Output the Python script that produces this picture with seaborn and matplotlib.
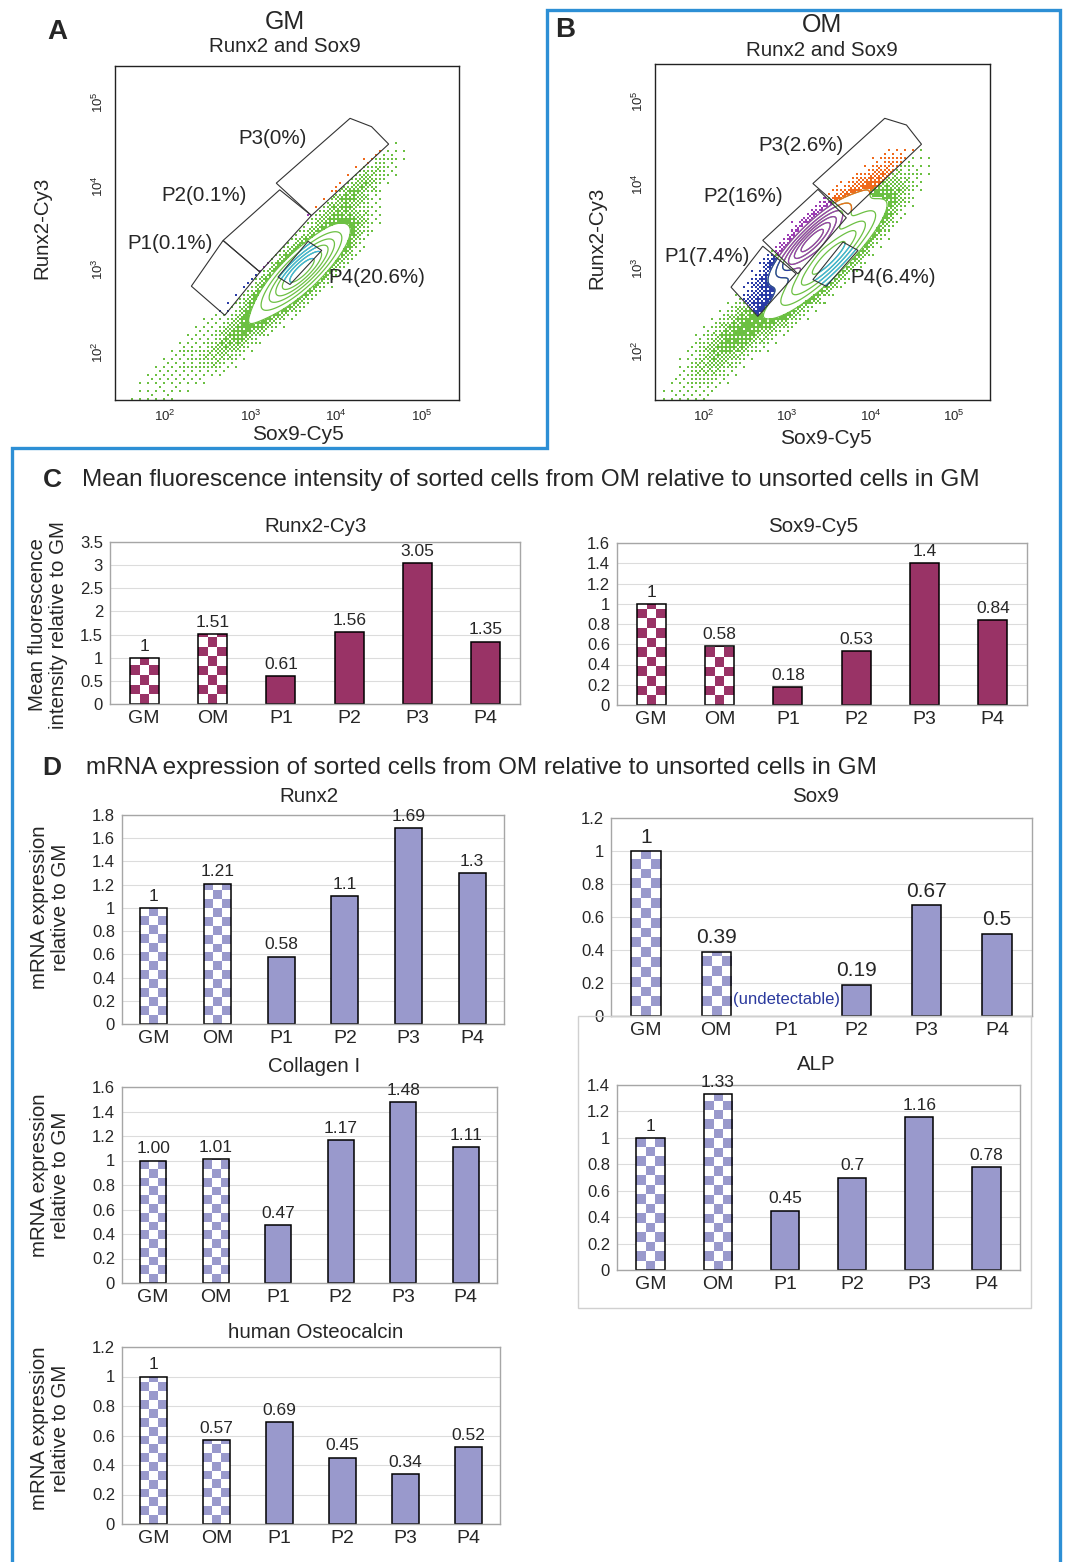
import numpy as np
import pandas as pd
import matplotlib
matplotlib.use("Agg")
import matplotlib.pyplot as plt
from matplotlib.colors import ListedColormap, to_rgba
from matplotlib.patches import Polygon, Rectangle
from matplotlib.path import Path
from matplotlib.lines import Line2D
import seaborn as sns

W, H = 1065, 1562

groups = ["GM", "OM", "P1", "P2", "P3", "P4"]

# C: mean fluorescence intensity relative to GM
mfi_runx2 = [1, 1.51, 0.61, 1.56, 3.05, 1.35]
mfi_sox9 = [1, 0.58, 0.18, 0.53, 1.4, 0.84]

# D: mRNA expression relative to GM
mrna_runx2 = [1, 1.21, 0.58, 1.1, 1.69, 1.3]
mrna_sox9 = [1, 0.39, np.nan, 0.19, 0.67, 0.5]   # P1 undetectable
mrna_col1 = [1.00, 1.01, 0.47, 1.17, 1.48, 1.11]
col1_labels = ["1.00", "1.01", "0.47", "1.17", "1.48", "1.11"]
mrna_alp = [1, 1.33, 0.45, 0.7, 1.16, 0.78]
mrna_ocn = [1, 0.57, 0.69, 0.45, 0.34, 0.52]

# A/B: sort gates in log10 units (Sox9-Cy5, Runx2-Cy3)
gates_gm = {
    "P1": [(2.31, 2.79), (2.70, 2.44), (3.11, 2.96), (2.68, 3.34)],
    "P2": [(2.68, 3.34), (3.11, 2.96), (3.71, 3.64), (3.34, 3.95)],
    "P3": [(3.30, 4.03), (3.71, 3.64), (4.61, 4.50), (4.41, 4.71), (4.16, 4.81)],
    "P4": [(3.67, 3.33), (3.83, 3.22), (3.46, 2.81), (3.32, 2.90)],
}
pct_gm = {"P1": "0.1%", "P2": "0.1%", "P3": "0%", "P4": "20.6%"}
labpos_gm = {"P1": (2.06, 3.30), "P2": (2.46, 3.88), "P3": (3.26, 4.57), "P4": (4.47, 2.90)}

gates_om = {
    "P1": [(2.33, 2.77), (2.65, 2.42), (3.11, 2.93), (2.71, 3.26)],
    "P2": [(2.71, 3.33), (3.13, 2.93), (3.71, 3.60), (3.37, 3.94)],
    "P3": [(3.31, 4.01), (3.73, 3.64), (4.61, 4.48), (4.43, 4.71), (4.17, 4.79)],
    "P4": [(3.67, 3.31), (3.85, 3.21), (3.47, 2.78), (3.31, 2.86)],
}
pct_om = {"P1": "7.4%", "P2": "16%", "P3": "2.6%", "P4": "6.4%"}
labpos_om = {"P1": (2.04, 3.14), "P2": (2.48, 3.85), "P3": (3.17, 4.46), "P4": (4.27, 2.89)}

# cell populations:
# centre x, centre y, spread along / across the diagonal, weight
cloud_gm = [(3.60, 2.98, 0.34, 0.10, 1.0),
            (4.15, 3.85, 0.30, 0.08, 0.045),
            (2.90, 2.25, 0.30, 0.09, 0.05),
            (2.30, 1.95, 0.50, 0.12, 0.004)]
cloud_om = [(3.50, 3.12, 0.45, 0.10, 0.8),
            (3.30, 3.33, 0.32, 0.08, 1.0),
            (2.45, 2.25, 0.35, 0.12, 0.06),
            (3.95, 3.90, 0.25, 0.08, 0.06),
            (2.20, 1.90, 0.55, 0.12, 0.004)]

LEVELS = [0.08, 0.18, 0.32, 0.48, 0.66, 0.85]
GREEN = "#6cc043"
GATE_COLORS = {"P1": "#2b3ca6", "P2": "#9b3cb3", "P3": "#f06a1c", "P4": "#3cb2e4"}
MAROON = "#993366"
LAVENDER = "#9999cc"
XLIM = (1.42, 5.43)
YLIM = (1.42, 5.44)

sns.set_style("white")
plt.rcParams["font.family"] = ["Liberation Sans", "DejaVu Sans"]
plt.rcParams["mathtext.fontset"] = "custom"
plt.rcParams["mathtext.rm"] = "Liberation Sans"

fig = plt.figure(figsize=(W / 100, H / 100), dpi=100)


def axpx(l, t, r, b):
    return fig.add_axes([l / W, 1 - b / H, (r - l) / W, (b - t) / H])


def ftext(x, y, s, **kw):
    fig.text(x / W, 1 - y / H, s, **kw)


def bayer(n=8):
    m = np.array([[0, 2], [3, 1]])
    while m.shape[0] < n:
        m = np.block([[4 * m, 4 * m + 2], [4 * m + 3, 4 * m + 1]])
    return (m + 0.5) / m.size


def cloud_density(X, Y, comps):
    d = np.zeros_like(X)
    for cx, cy, su, sv, w in comps:
        u = ((X - cx) + (Y - cy)) / np.sqrt(2)
        v = ((Y - cy) - (X - cx)) / np.sqrt(2)
        d += w * np.exp(-0.5 * ((u / su) ** 2 + (v / sv) ** 2))
    return d / d.max()


def flow_panel(rect, comps, gates, pct, labpos):
    l, t, r, b = rect
    ax = axpx(l, t, r, b)
    # dot layer: 2 px cells, ordered dithering of the population density
    nx, ny = (r - l) // 2, (b - t) // 2
    xs = XLIM[0] + (np.arange(nx) + 0.5) * (XLIM[1] - XLIM[0]) / nx
    ys = YLIM[0] + (np.arange(ny) + 0.5) * (YLIM[1] - YLIM[0]) / ny
    X, Y = np.meshgrid(xs, ys)
    D = cloud_density(X, Y, comps)
    c1 = LEVELS[0]
    p = np.where(D < c1, (D / c1) ** 0.6, 0)
    p[D < c1 * 0.005] = 0
    thr = np.tile(bayer(8), (ny // 8 + 1, nx // 8 + 1))[:ny, :nx]
    dots = p > thr
    rgba = np.ones((ny, nx, 4))
    rgba[dots] = to_rgba(GREEN)
    pts = np.column_stack([X.ravel(), Y.ravel()])
    for name, verts in gates.items():
        inside = Path(verts).contains_points(pts).reshape(ny, nx)
        rgba[dots & inside] = to_rgba(GATE_COLORS[name])
    ax.imshow(rgba, extent=(*XLIM, *YLIM), origin="lower",
              interpolation="nearest", aspect="auto", zorder=1)
    # contour layer on a finer grid
    fx = np.linspace(*XLIM, 400)
    fy = np.linspace(*YLIM, 400)
    FX, FY = np.meshgrid(fx, fy)
    FD = cloud_density(FX, FY, comps)
    ax.contour(FX, FY, FD, levels=LEVELS, colors=GREEN, linewidths=0.9, zorder=2)
    for name, verts in gates.items():
        cs = ax.contour(FX, FY, FD, levels=LEVELS, colors=GATE_COLORS[name],
                        linewidths=0.9, zorder=2.5)
        cs.set_clip_path(Polygon(verts, closed=True, transform=ax.transData))
        ax.add_patch(Polygon(verts, closed=True, fill=False, edgecolor="#333333",
                             lw=0.8, zorder=3))
        ax.text(*labpos[name], f"{name}({pct[name]})", fontsize=14.8,
                ha="center", va="center", zorder=4)
    ax.set_xlim(XLIM)
    ax.set_ylim(YLIM)
    major = [2, 3, 4, 5]
    minor = [np.log10(k * 10 ** n) for n in range(1, 6) for k in range(2, 10)]
    labels = [f"$10^{{{n}}}$" for n in major]
    ax.set_xticks(major)
    ax.set_xticklabels(labels, fontsize=9.5)
    ax.set_yticks(major)
    ax.set_yticklabels(labels, fontsize=9.5, rotation=90, va="center")
    ax.set_xticks([m for m in minor if XLIM[0] < m < XLIM[1]], minor=True)
    ax.set_yticks([m for m in minor if YLIM[0] < m < YLIM[1]], minor=True)
    ax.tick_params(which="major", direction="out", length=5, width=0.8,
                   color="#333333", pad=1.5)
    ax.tick_params(which="minor", direction="out", length=3, width=0.7, color="#333333")
    for s in ax.spines.values():
        s.set_color("#222222")
        s.set_linewidth(1)
    return ax


def checker(ax, patch, color):
    x0, w, h = patch.get_x(), patch.get_width(), patch.get_height()
    bb = ax.get_window_extent()
    xl, yl = ax.get_xlim(), ax.get_ylim()
    pxx = bb.width / (xl[1] - xl[0])
    pxy = bb.height / (yl[1] - yl[0])
    sq_y = (w * pxx / 3) / pxy
    nrows = int(np.ceil(h / sq_y))
    arr = np.add.outer(np.arange(nrows), np.arange(3)) % 2
    im = ax.imshow(arr, extent=(x0, x0 + w, 0, nrows * sq_y), origin="lower",
                   cmap=ListedColormap(["white", color]), vmin=0, vmax=1,
                   interpolation="nearest", aspect="auto",
                   zorder=patch.get_zorder() + 0.1)
    clip = Rectangle((x0, 0), w, h, transform=ax.transData)
    im.set_clip_path(clip)
    patch.set_facecolor("none")
    patch.set_zorder(patch.get_zorder() + 0.5)


def bar_panel(rect, values, color, ymax, step, labels=None, vfs=12.5, tfs=12):
    ax = axpx(*rect)
    df = pd.DataFrame({"group": groups, "value": values})
    sns.barplot(data=df, x="group", y="value", order=groups, color=color,
                saturation=1, width=0.42, edgecolor="black", linewidth=1.1,
                errorbar=None, ax=ax)
    ax.set_xlim(-0.5, 5.5)
    ax.set_ylim(0, ymax)
    ticks = np.round(np.arange(0, ymax + step / 2, step), 2)
    ax.set_yticks(ticks)
    ax.set_yticklabels([f"{v:g}" for v in ticks], fontsize=tfs)
    ax.set_xticks(range(6))
    ax.set_xticklabels(groups, fontsize=14)
    ax.set_xticks(np.arange(-0.5, 6, 1), minor=True)
    ax.tick_params(axis="x", which="major", length=0, pad=4)
    ax.tick_params(axis="x", which="minor", length=4, color="#a0a0a0", width=0.8)
    ax.tick_params(axis="y", length=3, color="#a0a0a0", pad=2)
    ax.set_xlabel("")
    ax.set_ylabel("")
    ax.yaxis.grid(True, color="#dcdcdc", lw=0.8)
    ax.set_axisbelow(True)
    for s in ax.spines.values():
        s.set_visible(True)
        s.set_color("#a6a6a6")
        s.set_linewidth(1)
    for patch in ax.patches[:2]:
        checker(ax, patch, color)
    ax.set_xlim(-0.5, 5.5)
    ax.set_ylim(0, ymax)
    if labels is None:
        labels = [f"{v:g}" for v in values]
    for i, (v, lab) in enumerate(zip(values, labels)):
        if np.isnan(v):
            continue
        ax.annotate(lab, (i, v), xytext=(0, 3), textcoords="offset points",
                    ha="center", va="bottom", fontsize=vfs)
    return ax


# ---- A and B: flow cytometry ----
ftext(57, 32, "A", fontsize=20, fontweight="bold", ha="center", va="center")
ftext(285, 22, "GM", fontsize=18, ha="center", va="center")
ftext(285, 47, "Runx2 and Sox9", fontsize=14.8, ha="center", va="center")
flow_panel((115, 66, 459, 400), cloud_gm, gates_gm, pct_gm, labpos_gm)
ftext(42, 228, "Runx2-Cy3", fontsize=14.8, rotation=90, ha="center", va="center")
ftext(298, 435, "Sox9-Cy5", fontsize=15, ha="center", va="center")

ftext(565, 30, "B", fontsize=20, fontweight="bold", ha="center", va="center")
ftext(822, 25, "OM", fontsize=18, ha="center", va="center")
ftext(822, 51, "Runx2 and Sox9", fontsize=14.8, ha="center", va="center")
flow_panel((655, 64, 990, 400), cloud_om, gates_om, pct_om, labpos_om)
ftext(597, 238, "Runx2-Cy3", fontsize=14.8, rotation=90, ha="center", va="center")
ftext(826, 438, "Sox9-Cy5", fontsize=15, ha="center", va="center")

# ---- C ----
ftext(52, 480, "C", fontsize=19, fontweight="bold", ha="center", va="center")
ftext(82, 480, "Mean fluorescence intensity of sorted cells from OM relative to unsorted cells in GM",
      fontsize=17.5, ha="left", va="center")
ftext(316, 526, "Runx2-Cy3", fontsize=14.8, ha="center", va="center")
bar_panel((110, 542, 520, 704), mfi_runx2, MAROON, 3.5, 0.5)
ftext(48, 625, "Mean fluorescence\nintensity relative to GM", fontsize=14.8,
      rotation=90, ha="center", va="center", linespacing=1.15)
ftext(813, 526, "Sox9-Cy5", fontsize=14.8, ha="center", va="center")
bar_panel((617, 543, 1027, 705), mfi_sox9, MAROON, 1.6, 0.2)

# ---- D ----
ftext(52, 768, "D", fontsize=19, fontweight="bold", ha="center", va="center")
ftext(86, 768, "mRNA expression of sorted cells from OM relative to unsorted cells in GM",
      fontsize=17.5, ha="left", va="center")
ylab = "mRNA expression\nrelative to GM"

ftext(309, 797, "Runx2", fontsize=14.8, ha="center", va="center")
bar_panel((122, 815, 504, 1024), mrna_runx2, LAVENDER, 1.8, 0.2)
ftext(50, 907, ylab, fontsize=14.8, rotation=90, ha="center", va="center", linespacing=1.15)

fig.add_artist(Rectangle((578 / W, 1 - 1308 / H), (1031 - 578) / W, (1308 - 1016) / H,
                         transform=fig.transFigure, fill=False, edgecolor="#d0d0d0", lw=1))
ftext(815, 797, "Sox9", fontsize=14.8, ha="center", va="center")
ax_sox = bar_panel((611, 818, 1032, 1016), mrna_sox9, LAVENDER, 1.2, 0.2, vfs=15)
ax_sox.text(2, 0.1, "(undetectable)", color="#2b3a9e", fontsize=12, ha="center", va="center")

ftext(314, 1066, "Collagen I", fontsize=14.8, ha="center", va="center")
bar_panel((122, 1087, 497, 1283), mrna_col1, LAVENDER, 1.6, 0.2, labels=col1_labels)
ftext(50, 1175, ylab, fontsize=14.8, rotation=90, ha="center", va="center", linespacing=1.15)

ftext(816, 1064, "ALP", fontsize=14.8, ha="center", va="center")
bar_panel((617, 1085, 1020, 1270), mrna_alp, LAVENDER, 1.4, 0.2)

ftext(316, 1333, "human Osteocalcin", fontsize=14.8, ha="center", va="center")
bar_panel((122, 1347, 500, 1524), mrna_ocn, LAVENDER, 1.2, 0.2)
ftext(50, 1428, ylab, fontsize=14.8, rotation=90, ha="center", va="center", linespacing=1.15)

# blue frame around B, C and D
bx = np.array([12, 12, 547, 547, 1060, 1060])
by = np.array([1562, 448, 448, 10, 10, 1562])
fig.add_artist(Line2D(bx / W, 1 - by / H, transform=fig.transFigure,
                      color="#2d8fd5", lw=2.4, solid_joinstyle="miter"))

fig.savefig("out.png", dpi=100)
